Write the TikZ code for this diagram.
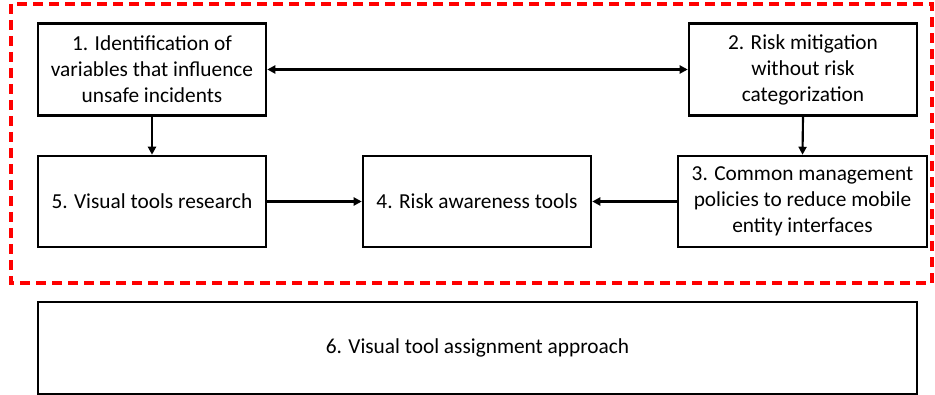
\documentclass[tikz,border=0pt]{standalone}
\usepackage{fontspec}
\setmainfont{Carlito}
\usetikzlibrary{arrows.meta}
\begin{document}
\begin{tikzpicture}[x=0.75pt,y=-0.75pt,
  box/.style={draw=black,line width=1.9pt,fill=white,align=center,inner sep=2pt,
    font=\fontsize{16}{19.5}\selectfont},
  conn/.style={line width=1.6pt,-{Triangle[length=6pt,width=6pt]}},
  frame/.style={draw=red,line width=2.6pt,dash pattern=on 7.5pt off 4.5pt}]
\useasboundingbox (0,0) rectangle (935,395);
\draw[frame] (11,4) rectangle (932,283);
\node[box,minimum width=228*0.75pt,minimum height=92*0.75pt] (n1) at (152,69.5) {1. Identification of\\variables that influence\\unsafe incidents};
\node[box,minimum width=228*0.75pt,minimum height=92*0.75pt] (n2) at (803,69.5) {2. Risk mitigation\\without risk\\categorization};
\node[box,minimum width=249*0.75pt,minimum height=91*0.75pt] (n3) at (802.5,201.5) {3. Common management\\policies to reduce mobile\\entity interfaces};
\node[box,minimum width=228*0.75pt,minimum height=91*0.75pt] (n4) at (477,201.5) {4. Risk awareness tools};
\node[box,minimum width=228*0.75pt,minimum height=91*0.75pt] (n5) at (152,201.5) {5. Visual tools research};
\node[box,minimum width=879*0.75pt,minimum height=92*0.75pt] (n6) at (477.5,348) {6. Visual tool assignment approach};
\draw[line width=1.6pt,{Triangle[length=6pt,width=6pt]}-{Triangle[length=6pt,width=6pt]}] (n1.east) -- (n2.west);
\draw[conn] (n1.south) -- (n5.north);
\draw[conn] (n2.south) -- (n3.north);
\draw[conn] (n5.east) -- (n4.west);
\draw[conn] (n3.west) -- (n4.east);
\end{tikzpicture}
\end{document}
